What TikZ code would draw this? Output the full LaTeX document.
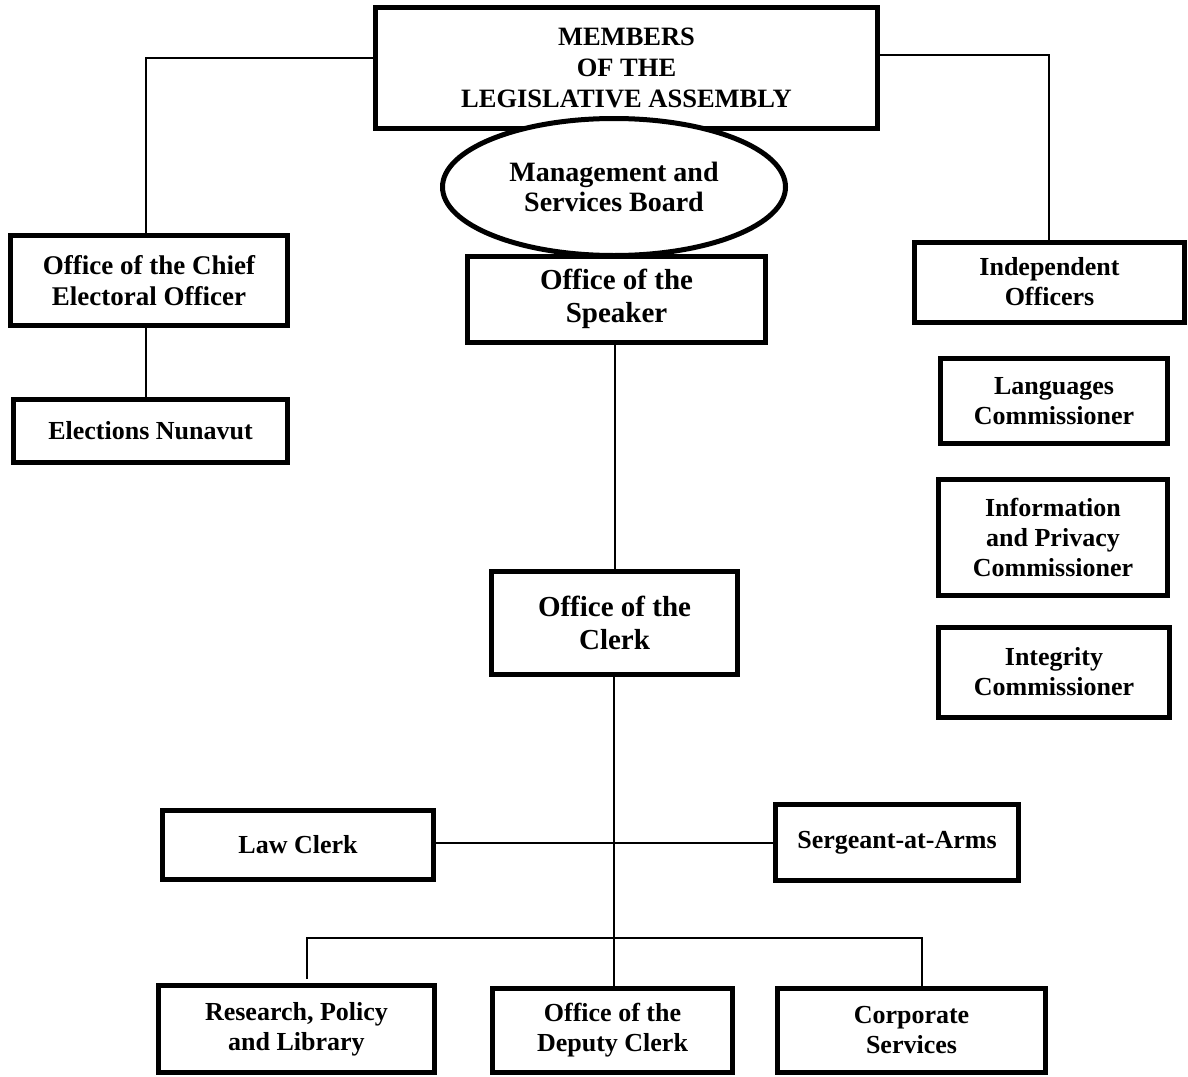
\documentclass[tikz,border=0pt]{standalone}
\usepackage{fontspec}
\setmainfont{Liberation Serif}
\usetikzlibrary{shapes.geometric}

\tikzset{
  office/.style={draw, line width=5pt, fill=white, align=center, inner sep=0pt,
    font=\bfseries\fontsize{26}{30}\selectfont},
  bigger/.style={font=\bfseries\fontsize{29}{33}\selectfont},
  link/.style={line width=2pt},
}

\begin{document}
\begin{tikzpicture}[x=1pt, y=-1pt]

\useasboundingbox (0,0) rectangle (1188,1076);

\node [office, font=\bfseries\fontsize{26.5}{31}\selectfont, minimum width=502, minimum height=121] (Members) at (626.5,68) {MEMBERS\\OF THE\\LEGISLATIVE ASSEMBLY};
\node [office, ellipse, font=\bfseries\fontsize{28}{30}\selectfont, minimum width=343, minimum height=137] (Board) at (614,187) {Management and\\Services Board};
\node [office, bigger, minimum width=298, minimum height=86] (Speaker) at (616.5,299) {Office of the\\Speaker};
\node [office, bigger, minimum width=246, minimum height=103] (Clerk) at (614.5,623) {Office of the\\Clerk};

\node [office, font=\bfseries\fontsize{27}{31}\selectfont, minimum width=277, minimum height=90] (Chief) at (149,280.5) {Office of the Chief\\Electoral Officer};
\node [office, minimum width=274, minimum height=63] (Elections) at (150.5,431) {Elections Nunavut};

\node [office, minimum width=270, minimum height=80] (Independent) at (1049.5,282) {Independent\\Officers};
\node [office, minimum width=227, minimum height=85] (Languages) at (1054,401) {Languages\\Commissioner};
\node [office, minimum width=229, minimum height=116] (Privacy) at (1053,537) {Information\\and Privacy\\Commissioner};
\node [office, minimum width=231, minimum height=90] (Integrity) at (1054,672) {Integrity\\Commissioner};

\node [office, minimum width=271, minimum height=69] (LawClerk) at (298,845) {Law Clerk};
\node [office, minimum width=243, minimum height=76] (Sergeant) at (897,842.5) {Sergeant-at-Arms};

\node [office, minimum width=276, minimum height=87] (Research) at (296.5,1029) {Research, Policy\\and Library};
\node [office, minimum width=240, minimum height=84] (Deputy) at (612.5,1030) {Office of the\\Deputy Clerk};
\node [office, minimum width=268, minimum height=84] (Corporate) at (911.5,1030) {Corporate\\Services};

\coordinate (bus) at (614,938);

\draw [link] ([yshift=10]Members.west) -| ([xshift=-3]Chief.north);
\draw [link] ([yshift=13]Members.east) -| ([xshift=-1]Independent.north);
\draw [link] ([xshift=-3]Chief.south) -- ([xshift=-3]Chief.south |- Elections.north);
\draw [link] ([xshift=-1.5]Speaker.south) -- ([xshift=-1.5]Speaker.south |- Clerk.north);
\draw [link] ([xshift=-0.5]Clerk.south) -- ([xshift=-0.5]Clerk.south |- Deputy.north);
\draw [link] (LawClerk.east |- Sergeant.west) -- (Sergeant.west);
\draw [link] ([xshift=10,yshift=4]Research.north) |- (bus) -| ([xshift=10]Corporate.north);

\end{tikzpicture}
\end{document}
